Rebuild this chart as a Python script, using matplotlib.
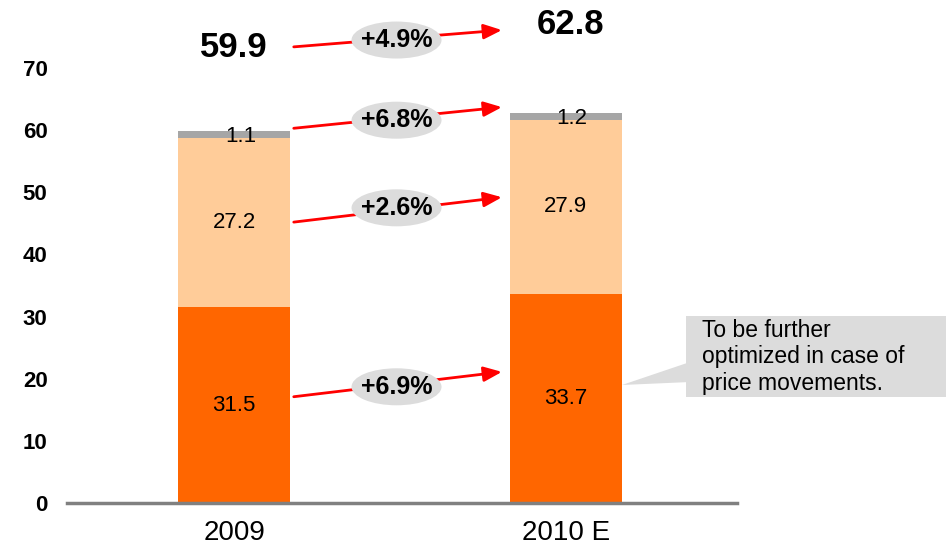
import matplotlib
matplotlib.use("Agg")
import matplotlib.pyplot as plt
from matplotlib.patches import Polygon, Rectangle, Ellipse
from matplotlib.transforms import blended_transform_factory, ScaledTranslation

plt.rcParams['font.family'] = ['Liberation Sans', 'DejaVu Sans']

categories = ["2009", "2010 E"]
base = [31.5, 33.7]
middle = [27.2, 27.9]
top = [1.1, 1.2]
totals = [59.9, 62.8]
growth_labels = ["+4.9%", "+6.8%", "+2.6%", "+6.9%"]
yticks = [0, 10, 20, 30, 40, 50, 60, 70]
note = "To be further\noptimized in case of\nprice movements."

c_base = "#ff6600"
c_mid = "#ffcc99"
c_top = "#a6a6a6"
c_bubble = "#dcdcdc"

fig = plt.figure(figsize=(9.48, 5.46), dpi=100)
W, H = 948, 546
ax = fig.add_axes([67 / W, 1 - 503 / H, 670 / W, 435 / H])
x = [0, 1]
bw = 0.338
ax.bar(x, base, width=bw, color=c_base, zorder=2)
ax.bar(x, middle, width=bw, bottom=base, color=c_mid, zorder=2)
mid_top = [b + m for b, m in zip(base, middle)]
ax.bar(x, top, width=bw, bottom=mid_top, color=c_top, zorder=2)

ax.set_xlim(-0.504, 1.517)
ax.set_ylim(0, 70)
ax.set_yticks(yticks)
ax.set_yticklabels([str(t) for t in yticks], fontsize=16, fontweight='bold')
ax.set_xticks(x)
ax.set_xticklabels(categories, fontsize=20)
ax.tick_params(axis='y', length=0, pad=14)
ax.tick_params(axis='x', length=0, pad=12)
for s in ['top', 'right', 'left']:
    ax.spines[s].set_visible(False)
ax.spines['bottom'].set_color('#808080')
ax.spines['bottom'].set_linewidth(2.5)

# segment labels
for i in range(2):
    ax.text(x[i], base[i] / 2, f"{base[i]}", ha='center', va='center', fontsize=16, zorder=5)
    ax.text(x[i], base[i] + middle[i] / 2, f"{middle[i]}", ha='center', va='center', fontsize=16, zorder=5)
    ax.text(x[i] + 0.02, mid_top[i] + top[i] / 2 - 0.3, f"{top[i]}", ha='center', va='center', fontsize=16, zorder=5)

# totals
ax.text(x[0], totals[0] + 13.4, f"{totals[0]}", ha='center', va='center', fontsize=25,
        fontweight='bold', clip_on=False)
ax.text(x[1] + 0.015, totals[1] + 14.2, f"{totals[1]}", ha='center', va='center', fontsize=25,
        fontweight='bold', clip_on=False)

# growth arrows
y_starts = [73.4, 60.3, 45.2, 17.1]
y_ends = [76.1, 63.7, 49.2, 21.1]
y_lbl = [74.5, 61.6, 47.5, 18.7]
for ys, ye, yl, lab in zip(y_starts, y_ends, y_lbl, growth_labels):
    ax.annotate("", xy=(0.808, ye), xytext=(0.18, ys),
                arrowprops=dict(arrowstyle='-|>,head_length=1.1,head_width=0.45',
                                color='#ff0000', lw=2, shrinkA=0, shrinkB=0),
                annotation_clip=False, zorder=6)
    # ellipse sized in pixels, centred at data point
    tr = ax.transData
    px, py = tr.transform((0.49, yl))
    e = Ellipse((px / W, py / H), 90 / W, 37 / H, transform=fig.transFigure,
                fc=c_bubble, ec='none', zorder=7)
    fig.patches.append(e)
    fig.text(px / W, py / H, lab, ha='center', va='center', fontsize=18, fontweight='bold',
             zorder=8)

# callout
fig.patches.append(Rectangle((686 / W, 1 - 397 / H), 260 / W, 81 / H,
                             transform=fig.transFigure, fc=c_bubble, ec='none', zorder=1))
fig.patches.append(Polygon([(622 / W, 1 - 385 / H), (690 / W, 1 - 362 / H), (690 / W, 1 - 382 / H)],
                           closed=True, transform=fig.transFigure, fc=c_bubble, ec='none'))
fig.text(702 / W, 1 - 357 / H, note, ha='left', va='center', fontsize=16.5, linespacing=1.2)

fig.savefig("out.png", dpi=100)
